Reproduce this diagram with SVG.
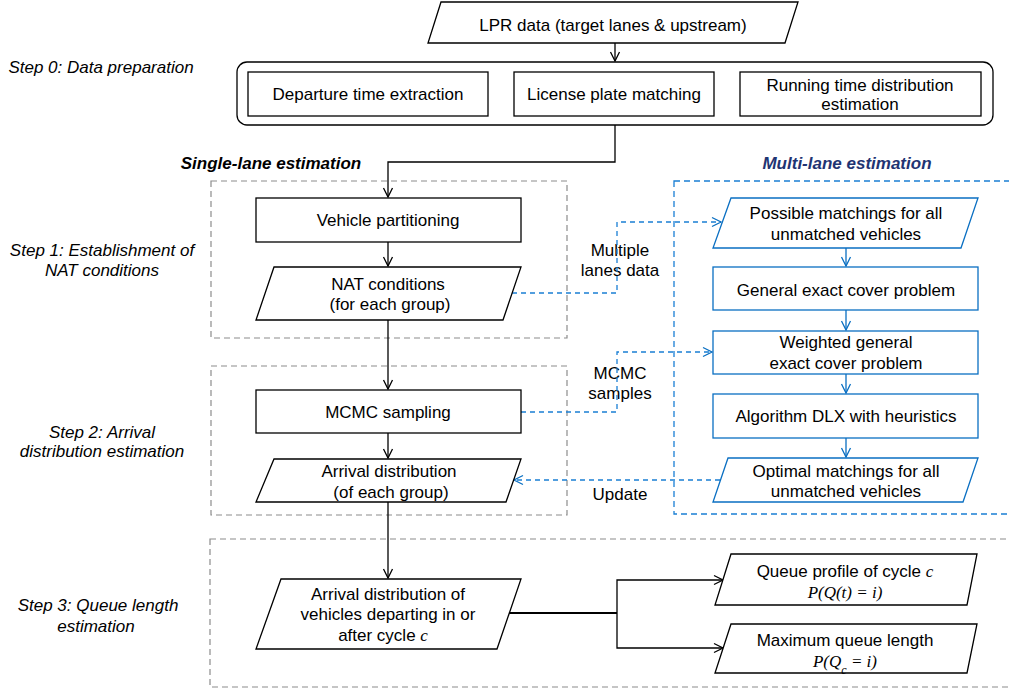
<svg xmlns="http://www.w3.org/2000/svg" width="1009" height="695" viewBox="0 0 1009 695">
<style>
  text { font-family: "Liberation Sans", Arial, sans-serif; font-size: 17px; fill: #000; text-anchor: middle; }
  .step { font-style: italic; }
  .title { font-weight: bold; font-style: italic; }
  .math { font-family: "Liberation Serif", "Times New Roman", serif; font-style: italic; font-size: 17px; }
  .box { fill: #fff; stroke: #000; stroke-width: 1.3; }
  .bbox { fill: #fff; stroke: #0a6fc2; stroke-width: 1.3; }
  .grp { fill: none; stroke: #8c8c8c; stroke-width: 1.2; stroke-dasharray: 6 4; }
  .bgrp { fill: none; stroke: #1a7fd4; stroke-width: 1.3; stroke-dasharray: 6 4; }
  .conn { fill: none; stroke: #000; stroke-width: 1.3; }
  .bconn { fill: none; stroke: #0a6fc2; stroke-width: 1.3; }
  .bdash { fill: none; stroke: #1a7fd4; stroke-width: 1.3; stroke-dasharray: 5 4; }
</style>
<defs>
  <marker id="ak" markerUnits="userSpaceOnUse" markerWidth="12" markerHeight="12" refX="10" refY="5" orient="auto" viewBox="0 0 12 10">
    <path d="M1,0.5 L10,5 L1,9.5" fill="none" stroke="#000" stroke-width="1.3"/>
  </marker>
  <marker id="ab" markerUnits="userSpaceOnUse" markerWidth="12" markerHeight="12" refX="10" refY="5" orient="auto" viewBox="0 0 12 10">
    <path d="M1,0.5 L10,5 L1,9.5" fill="none" stroke="#0a6fc2" stroke-width="1.3"/>
  </marker>
</defs>

<g id="labels">
  <text class="step" x="101" y="73">Step 0: Data preparation</text>
  <text class="step" x="102" y="256">Step 1: Establishment of</text>
  <text class="step" x="102" y="276">NAT conditions</text>
  <text class="step" x="102" y="438">Step 2: Arrival</text>
  <text class="step" x="102" y="457">distribution estimation</text>
  <text class="step" x="98" y="611">Step 3: Queue length</text>
  <text class="step" x="96" y="632">estimation</text>
  <text class="title" x="271" y="169">Single-lane estimation</text>
  <text class="title" x="847" y="169" style="fill:#1f3473">Multi-lane estimation</text>
  <text x="620" y="256">Multiple</text>
  <text x="620" y="276">lanes data</text>
  <text x="620" y="379">MCMC</text>
  <text x="620" y="399">samples</text>
  <text x="620" y="500">Update</text>
</g>

<g id="groups">
  <rect class="grp" x="211" y="181" width="356" height="157"/>
  <rect class="grp" x="211" y="366" width="356" height="149"/>
  <rect class="grp" x="210" y="539" width="820" height="148"/>
  <rect class="bgrp" x="674" y="181" width="360" height="333"/>
</g>

<g id="connectors">
  <path class="conn" d="M615,43 V61" marker-end="url(#ak)"/>
  <path class="conn" d="M615,125 V162 H388 V197" marker-end="url(#ak)"/>
  <path class="conn" d="M388,242 V266" marker-end="url(#ak)"/>
  <path class="conn" d="M388,320 V389" marker-end="url(#ak)"/>
  <path class="conn" d="M388,433 V458" marker-end="url(#ak)"/>
  <path class="conn" d="M388,502 V578" marker-end="url(#ak)"/>
  <path class="conn" d="M509,613 H617" style="stroke-width:2"/>
  <path class="conn" d="M617,613 V580 H723" marker-end="url(#ak)"/>
  <path class="conn" d="M617,613 V648 H723" marker-end="url(#ak)"/>
  <path class="bdash" d="M512,293 H617 V222 H721" marker-end="url(#ab)"/>
  <path class="bdash" d="M521,412 H617 V352 H712" marker-end="url(#ab)"/>
  <path class="bdash" d="M720,480 H514" marker-end="url(#ab)"/>
  <path class="bconn" d="M846,248 V266" marker-end="url(#ab)"/>
  <path class="bconn" d="M846,310 V330" marker-end="url(#ab)"/>
  <path class="bconn" d="M846,374 V393" marker-end="url(#ab)"/>
  <path class="bconn" d="M846,438 V457" marker-end="url(#ab)"/>
</g>

<g id="lpr">
  <polygon class="box" points="441,2 798,2 785,43 428,43"/>
  <text x="613" y="31">LPR data (target lanes &amp; upstream)</text>
</g>

<g id="step0">
  <rect class="box" x="237" y="62" width="756" height="63" rx="10" ry="10"/>
</g>
<g id="departure">
  <rect class="box" x="248" y="72" width="240" height="44"/>
  <text x="368" y="100">Departure time extraction</text>
</g>
<g id="license">
  <rect class="box" x="514" y="72" width="200" height="44"/>
  <text x="614" y="100">License plate matching</text>
</g>
<g id="running">
  <rect class="box" x="740" y="72" width="241" height="44"/>
  <text x="860" y="91">Running time distribution</text>
  <text x="860" y="110">estimation</text>
</g>

<g id="vehicle">
  <rect class="box" x="256" y="198" width="265" height="44"/>
  <text x="388" y="226">Vehicle partitioning</text>
</g>
<g id="nat">
  <polygon class="box" points="274,267 521,267 503,320 256,320"/>
  <text x="388" y="290">NAT conditions</text>
  <text x="390" y="310">(for each group)</text>
</g>
<g id="mcmc">
  <rect class="box" x="256" y="390" width="265" height="43"/>
  <text x="388" y="418">MCMC sampling</text>
</g>
<g id="arrival">
  <polygon class="box" points="274,459 521,459 506,502 256,502"/>
  <text x="389" y="477">Arrival distribution</text>
  <text x="391" y="498">(of each group)</text>
</g>

<g id="arrival-c">
  <polygon class="box" points="281,579 521,579 497,649 256,649"/>
  <text x="388" y="600">Arrival distribution of</text>
  <text x="388" y="620">vehicles departing in or</text>
  <text x="383" y="641">after cycle <tspan class="math">c</tspan></text>
</g>
<g id="queue-profile">
  <polygon class="box" points="731,554 977,554 967,605 715,605"/>
  <text x="845" y="577">Queue profile of cycle <tspan class="math">c</tspan></text>
  <text class="math" x="845" y="598">P(Q(t) = i)</text>
</g>
<g id="max-queue">
  <polygon class="box" points="731,624 977,624 967,673 715,673"/>
  <text x="845" y="646">Maximum queue length</text>
  <text class="math" x="845" y="667">P(Q<tspan baseline-shift="sub" font-size="12">c</tspan> = i)</text>
</g>

<g id="possible">
  <polygon class="bbox" points="731,198 978,198 961,248 713,248"/>
  <text x="846" y="219">Possible matchings for all</text>
  <text x="846" y="240">unmatched vehicles</text>
</g>
<g id="general">
  <rect class="bbox" x="713" y="267" width="265" height="43"/>
  <text x="846" y="296">General exact cover problem</text>
</g>
<g id="weighted">
  <rect class="bbox" x="713" y="331" width="265" height="43"/>
  <text x="846" y="348">Weighted general</text>
  <text x="846" y="369">exact cover problem</text>
</g>
<g id="dlx">
  <rect class="bbox" x="713" y="394" width="265" height="44"/>
  <text x="846" y="422">Algorithm DLX with heuristics</text>
</g>
<g id="optimal">
  <polygon class="bbox" points="728,458 978,458 963,502 713,502"/>
  <text x="846" y="477">Optimal matchings for all</text>
  <text x="846" y="497">unmatched vehicles</text>
</g>
</svg>
